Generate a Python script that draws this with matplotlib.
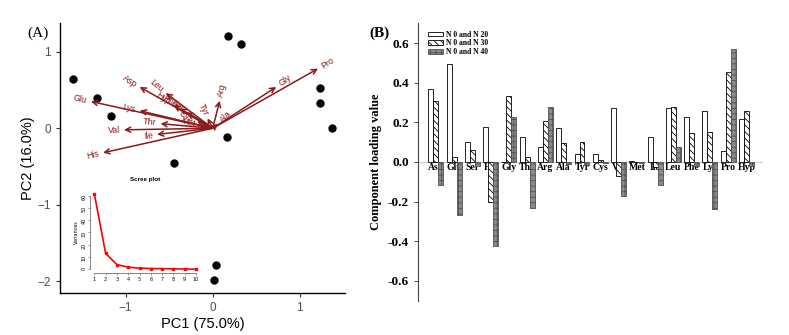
import numpy as np
import matplotlib.pyplot as plt

# =========================
# DATA
# =========================
# (A) PCA biplot: sample scores
score_x = [-1.61, -1.33, -1.17, 0.18, 0.33, 1.23, 1.23, 1.37, 0.16, -0.44, 0.04, 0.01]
score_y = [0.64, 0.39, 0.16, 1.21, 1.10, 0.52, 0.33, 0.01, -0.11, -0.45, -1.79, -1.98]

# variable arrows (tip coordinates)
var_names = ["Pro", "Gly", "Arg", "Asp", "Leu", "Glu", "Lys", "Thr", "Val",
             "Ile", "His", "Hyp", "Phe", "Ser", "Tyr", "Cys", "Met", "Ala"]
var_x = [1.21, 0.73, 0.08, -0.84, -0.54, -1.40, -0.84, -0.60, -1.02,
         -0.64, -1.26, -0.45, -0.38, -0.30, -0.06, -0.18, -0.15, 0.06]
var_y = [0.78, 0.54, 0.36, 0.54, 0.46, 0.35, 0.23, 0.06, -0.02,
         -0.08, -0.32, 0.30, 0.26, 0.21, 0.13, 0.09, 0.04, 0.06]

# scree plot
scree_pc = list(range(1, 11))
scree_var = [61.5, 13.0, 3.8, 1.7, 0.9, 0.6, 0.5, 0.35, 0.15, 0.1]

# (B) component loadings
amino = ["Asp", "Glu", "Ser", "His", "Gly", "Thr", "Arg", "Ala", "Tyr",
         "Cys", "Val", "Met", "Ile", "Leu", "Phe", "Lys", "Pro", "Hyp"]
n20 = [0.369, 0.494, 0.100, 0.178, 0.002, 0.125, 0.075, 0.174, 0.038,
       0.038, 0.272, 0.004, 0.125, 0.272, 0.229, 0.255, 0.057, 0.215]
n30 = [0.309, 0.027, 0.063, -0.203, 0.333, 0.026, 0.207, 0.095, 0.100,
       0.012, -0.070, 0.002, -0.025, 0.279, 0.146, 0.151, 0.452, 0.259]
n40 = [-0.118, -0.270, -0.018, -0.425, 0.226, -0.233, 0.277, -0.012, -0.017,
       -0.005, -0.172, -0.003, -0.117, 0.076, -0.020, -0.239, 0.571, -0.020]
series_labels = ["N 0 and N 20", "N 0 and N 30", "N 0 and N 40"]

ARROW = "#8B1A1A"
SANS = "Liberation Sans"
SERIF = "Liberation Serif"
W, H = 789, 335

fig = plt.figure(figsize=(W / 100, H / 100), dpi=100)

# =========================
# PANEL A
# =========================
axA = fig.add_axes([60 / W, 1 - 292.7 / H, 285 / W, 269.7 / H])
axA.set_xlim(-1.755, 1.52)
axA.set_ylim(-2.149, 1.376)
for s in ["top", "right"]:
    axA.spines[s].set_visible(False)
for s in ["left", "bottom"]:
    axA.spines[s].set_linewidth(1.0)
axA.set_xticks([-1, 0, 1])
axA.set_yticks([-2, -1, 0, 1])
axA.set_xticklabels(["\u22121", "0", "1"], family=SANS)
axA.set_yticklabels(["\u22122", "\u22121", "0", "1"], family=SANS)
axA.tick_params(labelsize=8.5, labelcolor="#4d4d4d", color="#333333", length=3, width=0.8)
axA.set_xlabel("PC1 (75.0%)", fontsize=10.5, family=SANS, labelpad=2)
axA.set_ylabel("PC2 (16.0%)", fontsize=10.5, family=SANS, labelpad=2)

axA.plot(score_x, score_y, "o", color="black", markersize=5, zorder=3)

for name, vx, vy in zip(var_names, var_x, var_y):
    axA.annotate("", xy=(vx, vy), xytext=(0, 0),
                 arrowprops=dict(arrowstyle="->", color=ARROW, lw=1.1,
                                 mutation_scale=9, shrinkA=0, shrinkB=0))
    ang = np.degrees(np.arctan(vy / vx))
    d = np.hypot(vx, vy)
    ox, oy = vx / d * 0.05, vy / d * 0.05
    axA.text(vx + ox, vy + oy, name, color=ARROW, fontsize=6.3, family=SANS,
             rotation=ang, rotation_mode="anchor",
             ha="right" if vx < 0 else "left", va="center")

fig.text(27 / W, 1 - 33 / H, "(A)", fontsize=11, family=SERIF,
         va="center", ha="left")

# scree inset
axS = fig.add_axes([89.8 / W, 1 - 273.3 / H, 110.7 / W, 82.5 / H])
axS.set_xlim(0.6, 10.4)
axS.set_ylim(-3.3, 64)
axS.patch.set_alpha(0)
for s in ["top", "right"]:
    axS.spines[s].set_visible(False)
axS.spines["left"].set_bounds(0, 60)
axS.spines["bottom"].set_bounds(1, 10)
for s in ["left", "bottom"]:
    axS.spines[s].set_linewidth(0.5)
    axS.spines[s].set_color("#555555")
axS.set_xticks(scree_pc)
axS.set_yticks(range(0, 61, 10))
axS.tick_params(labelsize=3.5, length=1.5, width=0.4, pad=1, color="#555555")
axS.tick_params(axis="y", labelrotation=90)
axS.set_ylabel("Variances", fontsize=3.5, labelpad=2)
axS.plot(scree_pc, scree_var, color="red", lw=1.2, marker="s", markersize=2)
fig.text(145 / W, 1 - 179 / H, "Scree plot", fontsize=4.5, fontweight="bold",
         family=SANS, ha="center", va="center")

# =========================
# PANEL B
# =========================
axB = fig.add_axes([418 / W, 1 - 300.7 / H, 345 / W, 277.4 / H])
axB.set_xlim(-0.97, 17.9)
axB.set_ylim(-0.7, 0.7)
for s in ["top", "right", "bottom"]:
    axB.spines[s].set_visible(False)
axB.spines["left"].set_color("#444444")
axB.spines["left"].set_linewidth(0.8)
axB.set_xticks([])
axB.set_yticks([0.6, 0.4, 0.2, 0.0, -0.2, -0.4, -0.6])
axB.set_yticklabels(["0.6", "0.4", "0.2", "0.0", "-0.2", "-0.4", "-0.6"])
for lab in axB.get_yticklabels():
    lab.set_family(SERIF)
    lab.set_fontweight("bold")
axB.tick_params(axis="y", labelsize=9.5, length=3, width=0.7, color="#444444")
axB.set_ylabel("Component loading value", fontsize=9, family=SERIF,
               fontweight="bold", labelpad=4)
axB.axhline(0, color="#cccccc", lw=0.8, zorder=0)

x = np.arange(len(amino))
bw = 0.273
plt.rcParams["hatch.linewidth"] = 0.6
axB.bar(x - bw, n20, bw, color="white", edgecolor="black", lw=0.6,
        label=series_labels[0], zorder=2)
axB.bar(x, n30, bw, color="white", edgecolor="black", lw=0.6, hatch="\\\\\\\\\\",
        label=series_labels[1], zorder=2)
axB.bar(x + bw, n40, bw, color="#8a8a8a", edgecolor="#505050", lw=0.6, hatch="+++",
        label=series_labels[2], zorder=2)

for xi, name in zip(x, amino):
    axB.text(xi, -0.006, name, ha="center", va="top", fontsize=7,
             family=SERIF, fontweight="bold", zorder=1)

axB.legend(loc="upper left", bbox_to_anchor=(0.02, 0.985), frameon=False,
           prop=dict(family=SERIF, weight="bold", size=5.5),
           handlelength=2.0, handleheight=0.55, labelspacing=0.12,
           handletextpad=0.4, borderaxespad=0)

fig.text(369 / W, 1 - 33 / H, "(B)", fontsize=11, family=SERIF,
         fontweight="bold", va="center", ha="left")

fig.savefig("out.png", dpi=100)
